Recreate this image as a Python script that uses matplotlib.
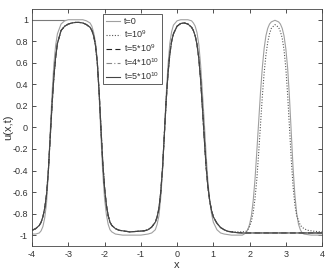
import matplotlib
matplotlib.use("Agg")
import matplotlib.pyplot as plt

plt.rcParams['font.family'] = ['Liberation Sans', 'DejaVu Sans']
plt.rcParams['mathtext.fontset'] = 'custom'
plt.rcParams['mathtext.rm'] = 'Liberation Sans'
plt.rcParams['mathtext.it'] = 'Liberation Sans:italic'

# ---- data ----
x_t0 = [-4.0, -3.9, -3.8, -3.75, -3.7, -3.65, -3.6, -3.55, -3.5, -3.45, -3.4, -3.35, -3.3, -3.2, -3.1,
        -3.0, -2.8, -2.6, -2.5, -2.4, -2.35, -2.3, -2.25, -2.2, -2.15, -2.1, -2.05, -2.0, -1.95, -1.9,
        -1.85, -1.8, -1.7, -1.5, -1.0, -0.8, -0.7, -0.6, -0.55, -0.5, -0.45, -0.4, -0.35, -0.3, -0.25,
        -0.2, -0.15, -0.1, 0.0, 0.1, 0.3, 0.4, 0.45, 0.5, 0.55, 0.6, 0.65, 0.7, 0.75, 0.8, 0.85, 0.9,
        0.95, 1.0, 1.1, 1.2, 1.3, 1.5, 1.8, 1.85, 1.9, 1.95, 2.0, 2.05, 2.1, 2.15, 2.2, 2.25, 2.3, 2.35,
        2.4, 2.45, 2.5, 2.55, 2.6, 2.7, 2.8, 2.85, 2.9, 2.95, 3.0, 3.05, 3.1, 3.15, 3.2, 3.25, 3.3, 3.35,
        3.4, 3.45, 3.5, 3.7, 4.0]
u_t0 = [-0.99, -0.99, -0.98, -0.96, -0.92, -0.84, -0.70, -0.42, -0.05, 0.30, 0.58, 0.76, 0.87, 0.96, 0.99,
        1.0, 1.0, 1.0, 0.99, 0.97, 0.94, 0.88, 0.79, 0.62, 0.30, -0.08, -0.42, -0.66, -0.81, -0.90,
        -0.95, -0.97, -0.99, -1.0, -1.0, -0.99, -0.98, -0.95, -0.90, -0.82, -0.65, -0.40, -0.05, 0.30, 0.58,
        0.78, 0.89, 0.95, 0.99, 1.0, 1.0, 0.99, 0.97, 0.94, 0.88, 0.77, 0.58, 0.32, 0.05, -0.25, -0.50, -0.68,
        -0.80, -0.88, -0.95, -0.98, -0.99, -1.0, -1.0, -0.99, -0.98, -0.95, -0.90, -0.82, -0.68, -0.48, -0.22, 0.05, 0.32, 0.55,
        0.73, 0.85, 0.92, 0.96, 0.98, 0.995, 0.98, 0.96, 0.92, 0.85, 0.73, 0.55, 0.28, -0.05, -0.38, -0.63, -0.80, -0.90,
        -0.95, -0.98, -0.99, -1.0, -1.0]

x_late = [-4.0, -3.9, -3.8, -3.75, -3.7, -3.65, -3.6, -3.55, -3.5, -3.45, -3.4, -3.35, -3.3, -3.2, -3.1,
          -3.0, -2.9, -2.8, -2.7, -2.6, -2.5, -2.4, -2.35, -2.3, -2.25, -2.2, -2.15, -2.1, -2.05, -2.0,
          -1.95, -1.9, -1.85, -1.8, -1.7, -1.6, -1.5, -1.3, -1.1, -0.9, -0.8, -0.7, -0.6, -0.55, -0.5,
          -0.45, -0.4, -0.35, -0.3, -0.25, -0.2, -0.15, -0.1, 0.0, 0.1, 0.2, 0.3, 0.4, 0.45, 0.5, 0.55,
          0.6, 0.65, 0.7, 0.75, 0.8, 0.85, 0.9, 0.95, 1.0, 1.1, 1.2, 1.3, 1.4, 1.6, 1.8, 4.0]
u_5e9 = [-0.955, -0.94, -0.91, -0.88, -0.83, -0.75, -0.62, -0.40, -0.10, 0.20, 0.46, 0.65, 0.78, 0.90, 0.94,
         0.96, 0.97, 0.975, 0.975, 0.97, 0.955, 0.93, 0.90, 0.85, 0.76, 0.60, 0.33, 0.0, -0.32, -0.56,
         -0.72, -0.82, -0.88, -0.91, -0.94, -0.955, -0.96, -0.97, -0.965, -0.96, -0.95, -0.925, -0.88, -0.83, -0.75,
         -0.60, -0.37, -0.06, 0.25, 0.50, 0.68, 0.80, 0.87, 0.94, 0.965, 0.97, 0.96, 0.93, 0.90, 0.85, 0.77,
         0.64, 0.44, 0.18, -0.10, -0.36, -0.55, -0.68, -0.77, -0.83, -0.89, -0.93, -0.95, -0.965, -0.975, -0.98, -0.98]
u_4e10 = list(u_5e9)
u_5e10 = list(u_5e9)

x_1e9 = x_late[:-3] + [1.6, 1.8, 1.9, 1.95, 2.0, 2.05, 2.1, 2.15, 2.2, 2.25, 2.3, 2.35, 2.4, 2.45, 2.5,
                       2.55, 2.6, 2.7, 2.8, 2.85, 2.9, 2.95, 3.0, 3.05, 3.1, 3.15, 3.2, 3.25, 3.3, 3.4,
                       3.5, 3.6, 3.8, 4.0]
u_1e9 = u_5e9[:-3] + [-0.97, -0.97, -0.965, -0.95, -0.92, -0.87, -0.79, -0.66, -0.48, -0.24, 0.02, 0.28, 0.50, 0.67, 0.79,
                      0.87, 0.92, 0.955, 0.93, 0.89, 0.83, 0.72, 0.55, 0.30, 0.0, -0.30, -0.55, -0.72, -0.82, -0.91,
                      -0.94, -0.955, -0.965, -0.97]

x_edge = [-4.0, -3.1]
u_edge = [1.0, 1.0]

labels = ['t=0', 't=10$^{9}$', 't=5*10$^{9}$', 't=4*10$^{10}$', 't=5*10$^{10}$']
x_ticks = [-4, -3, -2, -1, 0, 1, 2, 3, 4]
y_ticks = [-1, -0.8, -0.6, -0.4, -0.2, 0, 0.2, 0.4, 0.6, 0.8, 1]
y_tick_labels = ['-1', '-0.8', '-0.6', '-0.4', '-0.2', '0', '0.2', '0.4', '0.6', '0.8', '1']

# ---- figure ----
fig = plt.figure(figsize=(3.27, 2.72), dpi=100)
ax = fig.add_axes([0.098, 0.096, 0.887, 0.871])

ax.plot(x_edge, u_edge, color='#7a7a7a', lw=0.8)
ax.plot(x_t0, u_t0, color='#a0a0a0', lw=0.8, ls='-', label=labels[0])
ax.plot(x_1e9, u_1e9, color='#555555', lw=0.8, ls=(0, (1, 1.5)), label=labels[1])
ax.plot(x_late, u_5e9, color='#222222', lw=0.8, ls=(0, (5, 3)), label=labels[2])
ax.plot(x_late, u_4e10, color='#888888', lw=0.8, ls=(0, (5, 2, 1, 2)), label=labels[3])
ax.plot(x_late, u_5e10, color='#444444', lw=0.8, ls='-', label=labels[4])

ax.set_xlim(-4, 4)
ax.set_ylim(-1.1, 1.1)
ax.set_xticks(x_ticks)
ax.set_xticklabels([str(v) for v in x_ticks])
ax.set_yticks(y_ticks)
ax.set_yticklabels(y_tick_labels)
ax.tick_params(direction='in', length=3, width=0.6, labelsize=6.5, colors='#333333',
               top=True, right=True, pad=3)
for s in ax.spines.values():
    s.set_color('#444444')
    s.set_linewidth(0.6)

ax.set_xlabel('x', fontsize=8, color='#333333', labelpad=1)
ax.set_ylabel('u(x,t)', fontsize=8, color='#333333')
ax.yaxis.set_label_coords(-0.066, 0.5)

leg = ax.legend(loc='upper left', bbox_to_anchor=(0.245, 0.978), fontsize=6.5,
                frameon=True, fancybox=False, edgecolor='#444444', framealpha=1,
                handlelength=1.6, handletextpad=0.4, borderpad=0.3, labelspacing=0.25,
                borderaxespad=0)
leg.get_frame().set_linewidth(0.6)
for t in leg.get_texts():
    t.set_color('#333333')

fig.savefig('out.png', dpi=100)
